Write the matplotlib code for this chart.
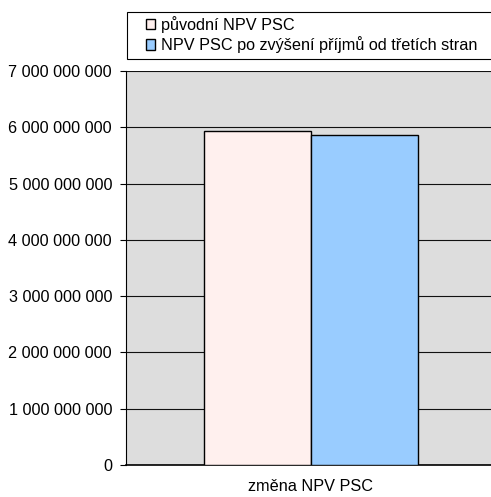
import matplotlib
matplotlib.use("Agg")
import matplotlib.pyplot as plt
from matplotlib.ticker import FuncFormatter, MultipleLocator
from matplotlib.patches import Rectangle
import numpy as np

plt.rcParams['font.family'] = ['Liberation Sans', 'DejaVu Sans']

categories = ["změna NPV PSC"]
series_names = ["původní NPV PSC", "NPV PSC po zvýšení příjmů od třetích stran"]
series_values = [[5.93e9], [5.87e9]]
series_colors = ["#FFF0EE", "#99CCFF"]

W, H = 491, 497
FS = 11.7
fig = plt.figure(figsize=(W / 100, H / 100), dpi=100)
ax = fig.add_axes([126 / W, 1 - 465 / H, 1 - 126 / W + 0.01, (465 - 71) / H])
ax.set_facecolor("#DDDDDD")

x = np.arange(len(categories))
bw = 0.29
handles = []
for i, (name, vals, col) in enumerate(zip(series_names, series_values, series_colors)):
    offs = (i - (len(series_names) - 1) / 2) * bw
    b = ax.bar(x + offs, vals, width=bw, color=col, edgecolor="black", linewidth=1.0,
               label=name, zorder=3)
    handles.append(b)

ax.set_xlim(-0.5, 0.5)
ax.set_ylim(0, 7e9)
ax.yaxis.set_major_locator(MultipleLocator(1e9))
ax.yaxis.set_major_formatter(FuncFormatter(lambda v, p: f"{int(round(v)):,}".replace(",", " ")))
ax.yaxis.grid(True, color="#111111", linewidth=0.8, zorder=1)
ax.set_axisbelow(True)
ax.set_xticks(x)
ax.set_xticklabels(categories)
ax.tick_params(axis="x", length=0, pad=10, labelsize=FS)
ax.tick_params(axis="y", length=4, width=0.8, pad=6, labelsize=FS, direction="out")

for s in ["top", "right"]:
    ax.spines[s].set_visible(False)
ax.spines["left"].set_linewidth(0.8)
ax.spines["bottom"].set_linewidth(1.2)

# legend frame drawn separately so the entries can sit inset from its left edge
fig.patches.append(Rectangle((127 / W, 1 - 59 / H), 1.0, 47 / H, transform=fig.transFigure,
                             facecolor="white", edgecolor="black", linewidth=0.8, zorder=0))
leg = fig.legend(handles=handles, labels=series_names, loc="upper left",
                 bbox_to_anchor=(144 / W, 1 - 14 / H), ncol=1, fontsize=FS,
                 frameon=False, handlelength=0.6, handleheight=0.6,
                 handletextpad=0.35, borderpad=0.1, labelspacing=0.22,
                 borderaxespad=0.0)

fig.savefig("out.png", dpi=100)
